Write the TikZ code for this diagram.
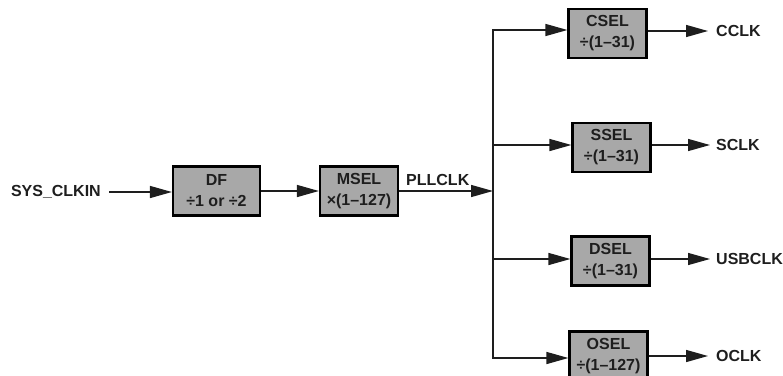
\documentclass[tikz,border=0pt]{standalone}
\usepackage{fontspec}
\setmainfont{Liberation Sans}
\usetikzlibrary{arrows.meta}
\definecolor{boxgray}{RGB}{168,168,168}
\definecolor{ink}{RGB}{30,30,30}
\begin{document}
\begin{tikzpicture}[x=1pt,y=-1pt,
  font=\fontsize{16}{21}\selectfont\bfseries, text=ink,
  blk/.style={draw=black, line width=2.2pt, fill=boxgray, align=center,
    inner sep=0pt, minimum width=78pt, minimum height=49pt},
  arr/.style={draw=ink, line width=1.4pt, -{Triangle[length=22pt,width=12pt]}},
  wire/.style={draw=ink, line width=1.4pt},
  lbl/.style={inner sep=0pt}]
\useasboundingbox (0,0) rectangle (783,375);
% blocks
\node[blk, minimum width=87pt] (df) at (216.5,191) {DF\\÷1 or ÷2};
\node[blk] (msel) at (359,191) {MSEL\\×(1–127)};
\node[blk] (csel) at (607.5,33.5) {CSEL\\÷(1–31)};
\node[blk] (ssel) at (611.5,147.5) {SSEL\\÷(1–31)};
\node[blk] (dsel) at (610.5,261) {DSEL\\÷(1–31)};
\node[blk] (osel) at (608.5,356) {OSEL\\÷(1–127)};
% labels
\node[lbl, anchor=east] (in) at (101,192) {SYS\_CLKIN};
\node[lbl, anchor=base west] (pll) at (406,185) {PLLCLK};
\node[lbl, anchor=west] (cclk) at (716,31) {CCLK};
\node[lbl, anchor=west] (sclk) at (716,145) {SCLK};
\node[lbl, anchor=west] (usb) at (716,259) {USBCLK};
\node[lbl, anchor=west] (oclk) at (716,356) {OCLK};
% junction
\coordinate (jt) at (493,30);
\coordinate (jm) at (493,191);
\coordinate (jb) at (493,358);
\coordinate (js) at (493,145);
\coordinate (jd) at (493,259);
% connectors
\draw[arr] ([xshift=8pt]in.east) -- (df.west |- in.east);
\draw[arr] (df.east) -- (msel.west);
\draw[arr] (msel.east) -- (jm);
\draw[wire, line cap=rect] (jt) -- (jb);
\draw[arr] (jt) -- (jt -| csel.west);
\draw[arr] (js) -- (js -| ssel.west);
\draw[arr] (jd) -- (jd -| dsel.west);
\draw[arr] (jb) -- (jb -| osel.west);
\draw[arr] (csel.east |- cclk.west) -- ([xshift=-8pt]cclk.west);
\draw[arr] (ssel.east |- sclk.west) -- ([xshift=-6pt]sclk.west);
\draw[arr] (dsel.east |- usb.west) -- ([xshift=-6pt]usb.west);
\draw[arr] (osel.east |- oclk.west) -- ([xshift=-8pt]oclk.west);
\end{tikzpicture}
\end{document}
